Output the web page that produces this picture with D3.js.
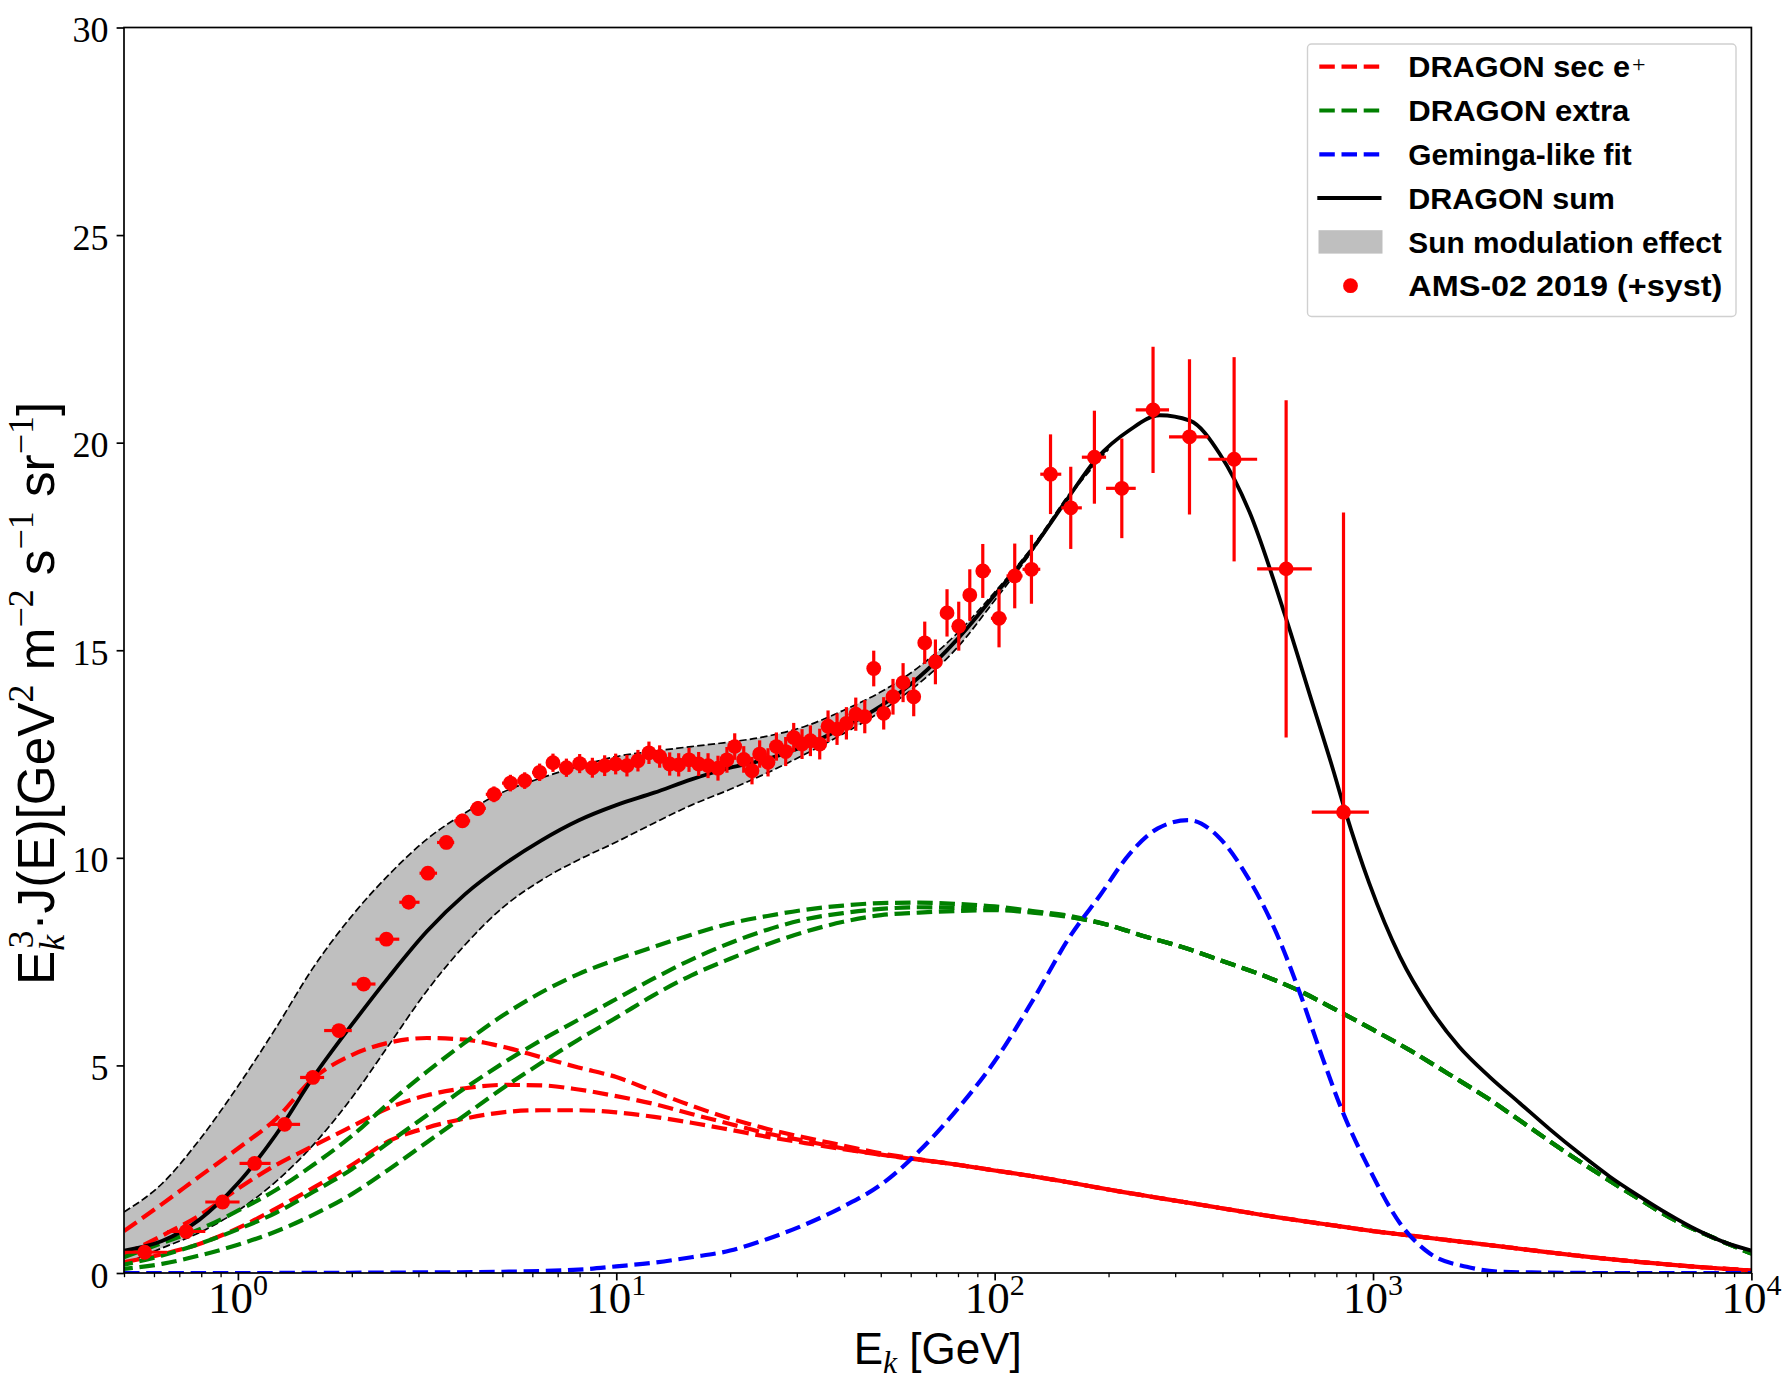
<!DOCTYPE html>
<html lang="en">
<head>
<meta charset="UTF-8">
<title>DRAGON positron flux vs AMS-02</title>
<script src="https://cdnjs.cloudflare.com/ajax/libs/d3/7.8.5/d3.min.js"></script>
<style>
  body { margin: 0; background: #fff; }
  svg { display: block; }
</style>
</head>
<body>
<div id="chart"></div>
<script>
// ---- data ----
// common energy grid (GeV) for the DRAGON secondary / extra curves
const gridE = [0.5, 0.63, 0.79, 1, 1.26, 1.58, 2, 2.51, 3.16, 3.98, 5.01, 6.31, 7.94, 10, 12.6, 15.8, 20, 25.1, 31.6, 39.8,
  50.1, 63.1, 79.4, 100, 126, 158, 200, 251, 316, 398, 501, 631, 794, 1000, 1260, 1580, 2000, 2510, 3160, 3980, 5010, 6310, 7940, 10000];

// DRAGON sec e+ (three modulation cases)
const secHigh = [1.01, 1.66, 2.32, 3.0, 3.71, 4.68, 5.25, 5.55, 5.66, 5.62, 5.45, 5.20, 4.95, 4.72, 4.37, 4.03, 3.72, 3.47, 3.26, 3.07,
  2.88, 2.74, 2.61, 2.47, 2.33, 2.18, 2.01, 1.86, 1.71, 1.56, 1.41, 1.27, 1.14, 1.01, 0.9, 0.79, 0.68, 0.57, 0.46, 0.36, 0.27, 0.19, 0.12, 0.06];
const secMid = [0.44, 0.9, 1.38, 2.03, 2.6, 3.06, 3.53, 3.98, 4.28, 4.45, 4.53, 4.52, 4.42, 4.26, 4.07, 3.83, 3.59, 3.36, 3.18, 3.0,
  2.85, 2.73, 2.61, 2.47, 2.33, 2.18, 2.01, 1.86, 1.71, 1.56, 1.41, 1.27, 1.14, 1.01, 0.9, 0.79, 0.68, 0.57, 0.46, 0.36, 0.27, 0.19, 0.12, 0.06];
const secLow = [0.26, 0.45, 0.7, 1.08, 1.55, 2.05, 2.6, 3.18, 3.5, 3.72, 3.87, 3.92, 3.92, 3.87, 3.76, 3.62, 3.45, 3.28, 3.13, 2.98,
  2.85, 2.73, 2.61, 2.47, 2.33, 2.18, 2.01, 1.86, 1.71, 1.56, 1.41, 1.27, 1.14, 1.01, 0.9, 0.79, 0.68, 0.57, 0.46, 0.36, 0.27, 0.19, 0.12, 0.06];

// DRAGON extra component (three modulation cases)
const extraHigh = [0.38, 0.72, 1.05, 1.5, 2.0, 2.6, 3.3, 4.1, 4.85, 5.55, 6.2, 6.75, 7.2, 7.55, 7.86, 8.15, 8.42, 8.6, 8.75, 8.85,
  8.91, 8.92, 8.89, 8.83, 8.72, 8.6, 8.38, 8.1, 7.84, 7.52, 7.2, 6.82, 6.35, 5.86, 5.35, 4.8, 4.22, 3.6, 2.97, 2.37, 1.8, 1.26, 0.85, 0.47];
const extraMid = [0.2, 0.42, 0.7, 1.05, 1.45, 1.95, 2.5, 3.15, 3.8, 4.45, 5.05, 5.6, 6.1, 6.6, 7.1, 7.55, 7.95, 8.27, 8.52, 8.67,
  8.77, 8.81, 8.8, 8.77, 8.7, 8.58, 8.38, 8.1, 7.84, 7.52, 7.2, 6.82, 6.35, 5.86, 5.35, 4.8, 4.22, 3.6, 2.97, 2.37, 1.8, 1.26, 0.85, 0.47];
const extraLow = [0.1, 0.22, 0.42, 0.68, 1.0, 1.4, 1.9, 2.5, 3.15, 3.8, 4.45, 5.05, 5.62, 6.15, 6.7, 7.17, 7.57, 7.92, 8.22, 8.46,
  8.62, 8.68, 8.72, 8.74, 8.68, 8.57, 8.38, 8.1, 7.84, 7.52, 7.2, 6.82, 6.35, 5.86, 5.35, 4.8, 4.22, 3.6, 2.97, 2.37, 1.8, 1.26, 0.85, 0.47];

// Geminga-like fit
const gemE = [0.5, 1, 2.51, 5.01, 7.94, 10, 12.6, 15.8, 20, 25.1, 31.6, 39.8, 50.1, 63.1, 79.4, 100, 126, 158, 190, 228,
  270, 325, 390, 468, 556, 641, 723, 834, 981, 1178, 1413, 1767, 2168, 2765, 4000, 10000];
const gemFlux = [0, 0, 0.01, 0.03, 0.08, 0.16, 0.25, 0.38, 0.54, 0.82, 1.17, 1.6, 2.13, 2.93, 3.93, 5.1, 6.56, 8.1, 9.1, 10.11,
  10.71, 10.91, 10.51, 9.51, 8.18, 6.74, 5.37, 3.85, 2.48, 1.2, 0.47, 0.15, 0.03, 0.01, 0, 0];

// DRAGON sum
const sumE = [0.5, 0.63, 0.79, 1, 1.26, 1.58, 2, 2.51, 3.16, 3.98, 5.01, 6.31, 7.94, 10, 12.6, 15.8, 20, 25.1, 31.6, 39.8,
  50.1, 63.1, 79.4, 100, 126, 155, 186, 227, 273, 328, 394, 471, 585, 681, 785, 843, 977, 1178, 1413, 1689,
  2036, 2444, 2934, 3522, 4227, 5074, 5969, 7165, 8601, 10000];
const sumFlux = [0.54, 0.77, 1.28, 2.16, 3.33, 4.71, 5.98, 7.14, 8.23, 9.12, 9.82, 10.41, 10.9, 11.27, 11.57, 11.89, 12.17, 12.38, 12.7, 13.14,
  13.66, 14.35, 15.25, 16.33, 17.45, 18.62, 19.62, 20.3, 20.66, 20.53, 19.72, 18.34, 15.85, 13.92, 12.11, 11.15, 9.39, 7.62, 6.38, 5.45,
  4.72, 4.09, 3.46, 2.87, 2.32, 1.84, 1.44, 1.04, 0.72, 0.54];

// Sun modulation band
const bandE = [0.5, 0.63, 0.79, 1, 1.26, 1.58, 2, 2.51, 3.16, 3.98, 5.01, 6.31, 7.94, 10, 12.6, 15.8, 20, 25.1, 31.6, 39.8,
  50.1, 63.1, 79.4, 100, 126, 158, 200];
const bandUp = [1.47, 2.15, 3.2, 4.5, 5.9, 7.35, 8.6, 9.6, 10.45, 11.08, 11.58, 11.92, 12.2, 12.44, 12.57, 12.68, 12.79, 12.93, 13.17, 13.55,
  14.0, 14.6, 15.4, 16.4, 17.5, 18.78, 19.88];
const bandLow = [0.21, 0.6, 0.97, 1.5, 2.2, 3.08, 4.22, 5.5, 6.8, 7.9, 8.8, 9.45, 9.95, 10.38, 10.84, 11.27, 11.65, 12.05, 12.5, 12.99,
  13.53, 14.2, 15.05, 16.2, 17.4, 18.72, 19.84];

// AMS-02 2019 positrons
const amsE = [0.567, 0.730, 0.911, 1.107, 1.329, 1.578, 1.849, 2.149, 2.468, 2.827, 3.178, 3.555, 3.920, 4.310, 4.750, 5.250, 5.727, 6.273, 6.803, 7.382,
  8.003, 8.646, 9.318, 9.963, 10.67, 11.41, 12.20, 13.02, 13.84, 14.62, 15.57, 16.51, 17.48, 18.57, 19.61, 20.56, 21.72, 22.84, 23.93, 25.18,
  26.50, 28.04, 29.44, 30.97, 32.59, 34.49, 36.28, 38.32, 40.57, 42.95, 45.37, 47.91, 50.91, 53.87, 57.28, 61.11, 65.35, 69.74, 74.84, 80.37,
  85.96, 93.03, 102.7, 113.0, 125.1, 140.5, 158.9, 183.5, 216.8, 262.2, 327.3, 429.4, 589.3, 835.6];
const amsFlux = [0.50, 1.00, 1.71, 2.64, 3.58, 4.71, 5.84, 6.96, 8.04, 8.93, 9.63, 10.37, 10.89, 11.19, 11.53, 11.80, 11.86, 12.06, 12.29, 12.17,
  12.27, 12.17, 12.22, 12.26, 12.22, 12.34, 12.53, 12.44, 12.26, 12.24, 12.36, 12.26, 12.22, 12.16, 12.36, 12.68, 12.37, 12.10, 12.50, 12.30,
  12.68, 12.56, 12.90, 12.74, 12.82, 12.74, 13.17, 13.10, 13.24, 13.46, 13.40, 14.56, 13.48, 13.88, 14.22, 13.88, 15.18, 14.72, 15.90, 15.58,
  16.33, 16.91, 15.77, 16.79, 16.95, 19.24, 18.43, 19.65, 18.90, 20.79, 20.14, 19.60, 16.96, 11.10];
const amsErr = [0.08, 0.08, 0.08, 0.09, 0.1, 0.1, 0.11, 0.12, 0.13, 0.14, 0.15, 0.16, 0.17, 0.18, 0.19, 0.2, 0.2, 0.21, 0.22, 0.22,
  0.23, 0.24, 0.25, 0.25, 0.26, 0.26, 0.27, 0.27, 0.28, 0.28, 0.29, 0.29, 0.3, 0.3, 0.31, 0.32, 0.32, 0.33, 0.33, 0.34,
  0.34, 0.35, 0.35, 0.36, 0.37, 0.37, 0.38, 0.38, 0.39, 0.40, 0.40, 0.43, 0.39, 0.43, 0.47, 0.47, 0.51, 0.54, 0.57, 0.59,
  0.62, 0.65, 0.70, 0.78, 0.83, 0.96, 0.99, 1.12, 1.20, 1.52, 1.87, 2.46, 4.06, 7.22];
// energy bin edges (one more than points)
const amsEdges = [0.5, 0.65, 0.82, 1.01, 1.22, 1.46, 1.69, 2.0, 2.31, 2.67, 3.02, 3.36, 3.73, 4.11, 4.52, 4.99, 5.48, 5.99, 6.53, 7.09,
  7.69, 8.32, 8.98, 9.64, 10.31, 11.03, 11.80, 12.60, 13.42, 14.22, 15.09, 16.03, 16.99, 18.02, 19.08, 20.08, 21.13, 22.27, 23.38, 24.55,
  25.83, 27.26, 28.73, 30.20, 31.77, 33.53, 35.37, 37.29, 39.43, 41.74, 44.14, 46.62, 49.39, 52.37, 55.55, 59.16, 63.19, 67.51, 72.25, 77.56,
  83.12, 89.43, 97.74, 107.5, 118.5, 132, 150, 170, 197, 236, 289, 367, 494, 689, 975];

const yTicks = [0, 5, 10, 15, 20, 25, 30];
const xMajor = [1, 10, 100, 1000, 10000];

// ---- layout ----
const W = 1791, H = 1393;
const M = {left: 124, right: 1751.4, top: 27.5, bottom: 1273};
const serif = "'Liberation Serif', 'DejaVu Serif', serif";
const sans = "'Liberation Sans', 'DejaVu Sans', sans-serif";
const DASH = "15.5,6.7";

const svg = d3.select("#chart").append("svg")
    .attr("width", W).attr("height", H)
    .style("background", "#fff");

const x = d3.scaleLog().domain([0.5, 1e4]).range([M.left, M.right]);
const y = d3.scaleLinear().domain([0, 30]).range([M.bottom, M.top]);

svg.append("defs").append("clipPath").attr("id", "plotclip")
  .append("rect")
    .attr("x", M.left).attr("y", M.top)
    .attr("width", M.right - M.left).attr("height", M.bottom - M.top);

const plot = svg.append("g").attr("clip-path", "url(#plotclip)");

function pairs(es, vs) { return es.map(function(e, i) { return [e, vs[i]]; }); }
const line = d3.line()
    .x(function(d) { return x(d[0]); })
    .y(function(d) { return y(d[1]); })
    .curve(d3.curveMonotoneX);

// path length from the start up to screen x = px (paths run left to right)
function lengthAtX(node, px) {
  let lo = 0, hi = node.getTotalLength();
  for (let i = 0; i < 40; i++) {
    const mid = (lo + hi) / 2;
    if (node.getPointAtLength(mid).x < px) lo = mid; else hi = mid;
  }
  return lo;
}

// gray band
const bandData = bandE.map(function(e, i) { return {e: e, lo: bandLow[i], hi: bandUp[i]}; });
plot.append("path")
    .datum(bandData)
    .attr("fill", "#bfbfbf")
    .attr("d", d3.area()
      .x(function(d) { return x(d.e); })
      .y0(function(d) { return y(d.lo); })
      .y1(function(d) { return y(d.hi); })
      .curve(d3.curveMonotoneX));
[bandUp, bandLow].forEach(function(arr) {
  plot.append("path")
      .datum(pairs(bandE, arr))
      .attr("d", line)
      .attr("fill", "none")
      .attr("stroke", "#000")
      .attr("stroke-width", 1.7)
      .attr("stroke-dasharray", "7.4,3.2");
});

function dashed(es, vs, color) {
  return plot.append("path")
      .datum(pairs(es, vs))
      .attr("d", line)
      .attr("fill", "none")
      .attr("stroke", color)
      .attr("stroke-width", 4.2)
      .attr("stroke-dasharray", DASH);
}
[secHigh, secMid, secLow].forEach(function(v) { dashed(gridE, v, "#ff0000"); });

// the three extra curves share one dash phase where they merge, so they read as one dashed line
const greens = [extraHigh, extraMid, extraLow].map(function(v) { return dashed(gridE, v, "#008000"); });
const refLen = lengthAtX(greens[0].node(), x(300));
greens.forEach(function(p) {
  p.attr("stroke-dashoffset", refLen - lengthAtX(p.node(), x(300)));
});

dashed(gemE, gemFlux, "#0000ff");

plot.append("path")
    .datum(pairs(sumE, sumFlux))
    .attr("d", line)
    .attr("fill", "none")
    .attr("stroke", "#000")
    .attr("stroke-width", 3.8);

// AMS-02 points with error bars
const ams = amsE.map(function(e, i) {
  return {e: e, f: amsFlux[i], err: amsErr[i], lo: amsEdges[i], hi: amsEdges[i + 1]};
});
const pts = plot.append("g").selectAll("g").data(ams).enter().append("g");
pts.append("line")
    .attr("x1", function(d) { return x(d.e); }).attr("x2", function(d) { return x(d.e); })
    .attr("y1", function(d) { return y(d.f - d.err); }).attr("y2", function(d) { return y(d.f + d.err); })
    .attr("stroke", "#ff0000").attr("stroke-width", 3.2);
pts.append("line")
    .attr("x1", function(d) { return x(d.lo); }).attr("x2", function(d) { return x(d.hi); })
    .attr("y1", function(d) { return y(d.f); }).attr("y2", function(d) { return y(d.f); })
    .attr("stroke", "#ff0000").attr("stroke-width", 3.2);
pts.append("circle")
    .attr("cx", function(d) { return x(d.e); })
    .attr("cy", function(d) { return y(d.f); })
    .attr("r", 7.4)
    .attr("fill", "#ff0000");

// ---- axes ----
const minor = [];
[0.1, 1, 10, 100, 1000].forEach(function(dec) {
  for (let m = 2; m <= 9; m++) {
    const v = dec * m;
    if (v >= 0.5 && v <= 1e4) minor.push(v);
  }
});

const xMinorAxis = svg.append("g")
    .attr("transform", "translate(0," + M.bottom + ")")
    .call(d3.axisBottom(x).tickValues(minor).tickSize(4.2).tickFormat(""));
const xMajorAxis = svg.append("g")
    .attr("transform", "translate(0," + M.bottom + ")")
    .call(d3.axisBottom(x).tickValues(xMajor).tickSize(7.4).tickFormat(""));
xMinorAxis.selectAll("line").attr("stroke-width", 1.3);
xMajorAxis.selectAll("line").attr("stroke-width", 1.7);
xMinorAxis.select(".domain").remove();
xMajorAxis.select(".domain").remove();

// x tick labels 10^n
xMajor.forEach(function(v) {
  const t = svg.append("text")
      .attr("x", x(v)).attr("y", 1313)
      .attr("text-anchor", "middle")
      .style("font-family", serif)
      .style("font-size", "45px")
      .attr("fill", "#000");
  t.append("tspan").text("10");
  t.append("tspan").attr("dy", -18).style("font-size", "30px").text(String(Math.round(Math.log10(v))));
});

const yAxis = svg.append("g")
    .attr("transform", "translate(" + M.left + ",0)")
    .call(d3.axisLeft(y).tickValues(yTicks).tickSize(7.4).tickPadding(8));
yAxis.select(".domain").remove();
yAxis.selectAll("line").attr("stroke-width", 1.7);
yAxis.selectAll("text")
    .attr("dy", "0.39em")
    .style("font-family", serif)
    .style("font-size", "36px")
    .attr("fill", "#000");

// frame
svg.append("rect")
    .attr("x", M.left).attr("y", M.top)
    .attr("width", M.right - M.left).attr("height", M.bottom - M.top)
    .attr("fill", "none").attr("stroke", "#000").attr("stroke-width", 1.7);

// ---- axis titles (sizes and shifts in em of the title font) ----
function rich(text, parts) {
  let shift = 0;
  parts.forEach(function(p) {
    const ts = text.append("tspan").text(p.t);
    const s = p.shift || 0;
    const size = p.size || 1;
    // dy is in the tspan's own em, so convert from title em
    if (s !== shift) { ts.attr("dy", ((s - shift) / size) + "em"); shift = s; }
    if (p.size) ts.style("font-size", p.size + "em");
    if (p.italic) ts.style("font-style", "italic").style("font-family", serif);
    if (p.family) ts.style("font-family", p.family);
    if (p.back) {
      const prev = text.selectAll("tspan").nodes();
      const w = prev[prev.length - 2].getComputedTextLength();
      ts.attr("dx", -w);
    }
  });
}

const xTitle = svg.append("text")
    .attr("x", (M.left + M.right) / 2).attr("y", 1364)
    .attr("text-anchor", "middle")
    .style("font-family", sans).style("font-size", "44px");
rich(xTitle, [
  {t: "E"},
  {t: "k", shift: 0.2, size: 0.72, italic: true},
  {t: " [GeV]", shift: 0}
]);

const yTitle = svg.append("text")
    .attr("transform", "translate(54,985) rotate(-90)")
    .style("font-family", sans).style("font-size", "44px");
rich(yTitle, [
  {t: "E"},
  {t: "k", shift: 0.2, size: 0.7, italic: true},
  {t: "3", shift: -0.4, size: 0.7, family: serif, back: true},
  {t: "\u00b7J(E)[GeV", shift: 0},
  {t: "2", shift: -0.4, size: 0.7, family: serif},
  {t: " m", shift: 0},
  {t: "\u22122", shift: -0.4, size: 0.7, family: serif},
  {t: " s", shift: 0},
  {t: "\u22121", shift: -0.4, size: 0.7, family: serif},
  {t: " sr", shift: 0},
  {t: "\u22121", shift: -0.4, size: 0.7, family: serif},
  {t: "]", shift: 0}
]);
// stretch the title to the length it has in the figure
const yLen = yTitle.node().getComputedTextLength();
yTitle.style("font-size", (44 * 597 / yLen) + "px");

// ---- legend ----
const legend = svg.append("g");
legend.append("rect")
    .attr("x", 1307.5).attr("y", 44)
    .attr("width", 428.5).attr("height", 272.5)
    .attr("rx", 4)
    .attr("fill", "#fff").attr("fill-opacity", 0.8)
    .attr("stroke", "#d0d0d0").attr("stroke-width", 1.4);

const legendItems = [
  {label: "DRAGON sec e", sup: "+", kind: "dash", color: "#ff0000", width: 221.7},
  {label: "DRAGON extra", kind: "dash", color: "#008000", width: 221},
  {label: "Geminga-like fit", kind: "dash", color: "#0000ff", width: 223.4},
  {label: "DRAGON sum", kind: "solid", color: "#000", width: 206.7},
  {label: "Sun modulation effect", kind: "patch", color: "#bfbfbf", width: 313.4},
  {label: "AMS-02 2019 (+syst)", kind: "dot", color: "#ff0000", width: 314}
];
legendItems.forEach(function(d, i) {
  const cy = 66.7 + i * 43.8;
  if (d.kind === "dash" || d.kind === "solid") {
    legend.append("line")
        .attr("x1", 1319.3).attr("x2", 1379.5).attr("y1", cy).attr("y2", cy)
        .attr("stroke", d.color)
        .attr("stroke-width", d.kind === "dash" ? 4.2 : 4)
        .attr("stroke-linecap", d.kind === "solid" ? "square" : "butt")
        .attr("stroke-dasharray", d.kind === "dash" ? DASH : null);
  } else if (d.kind === "patch") {
    legend.append("rect")
        .attr("x", 1318.5).attr("y", cy - 11.7).attr("width", 64).attr("height", 23.4)
        .attr("fill", d.color);
  } else {
    legend.append("circle").attr("cx", 1350.5).attr("cy", cy).attr("r", 7.4).attr("fill", d.color);
  }
  legend.append("text")
      .attr("x", 1408.3).attr("y", cy + 10.6)
      .attr("textLength", d.width).attr("lengthAdjust", "spacingAndGlyphs")
      .style("font-family", sans).style("font-weight", "bold").style("font-size", "30px")
      .text(d.label);
  if (d.sup) {
    legend.append("text")
        .attr("x", 1408.3 + d.width + 2).attr("y", cy + 5)
        .style("font-family", serif).style("font-size", "24px")
        .text(d.sup);
  }
});
</script>
</body>
</html>
